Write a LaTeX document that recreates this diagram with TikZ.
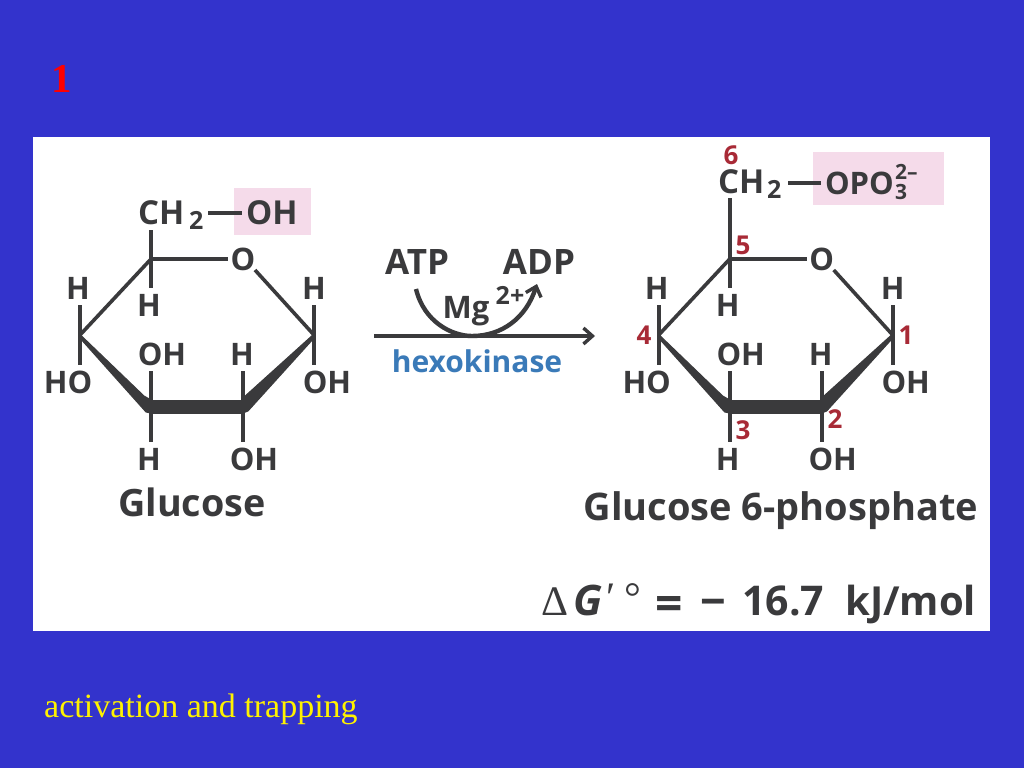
\documentclass[tikz,border=0pt]{standalone}
\usepackage{fontspec}
\setmainfont{Open Sans}
\newfontfamily\tnr{Liberation Serif}
\usetikzlibrary{arrows.meta}
\definecolor{bluebg}{HTML}{3333CC}
\definecolor{ink}{HTML}{3A3A3C}
\definecolor{pinkbox}{HTML}{F5DBEA}
\definecolor{numred}{HTML}{A82A36}
\definecolor{enzblue}{HTML}{3A7AB8}
\newcommand{\fsz}[1]{\fontsize{#1}{#1}\selectfont}
\tikzset{
  lab/.style={anchor=base,inner sep=0,outer sep=0,text=ink,font=\fsz{31}\bfseries},
  biglab/.style={lab,font=\fsz{34}\bfseries},
  sublab/.style={anchor=base,inner sep=0,outer sep=0,text=ink,font=\fsz{25}\bfseries},
  tinylab/.style={anchor=base west,inner sep=0,outer sep=0,text=ink,font=\fsz{21}\bfseries},
  numlab/.style={anchor=base,inner sep=0,outer sep=0,text=numred,font=\fsz{26}\bfseries},
  title/.style={anchor=base,inner sep=0,outer sep=0,text=ink,font=\fsz{37.7}\bfseries},
  bond/.style={draw=ink,line width=3.6pt},
  hbond/.style={draw=ink,line width=4.4pt},
  vbond/.style={draw=ink,line width=4.2pt},
  wedge/.style={fill=ink,draw=ink,line width=1pt,line join=round},
  arrowline/.style={draw=ink,line width=4.4pt},
  egy/.style={anchor=base west,inner sep=0,text=ink,font=\fsz{40}\bfseries},
  egyserif/.style={anchor=base west,inner sep=0,text=ink,font=\tnr\fsz{42}},
}
% #1 prefix, #2 x shift
\newcommand{\ringmol}[2]{%
  \begin{scope}[xshift=#2]
    \coordinate (#1c5) at (151,259);
    \coordinate (#1c1) at (314,335);
    \coordinate (#1c2) at (243,407);
    \coordinate (#1c3) at (151,407);
    \coordinate (#1c4) at (80,335);
    \coordinate (#1ob) at (255,270);
    \coordinate (#1oa) at (228,259);
    \coordinate (#1u4) at (80,305);
    \coordinate (#1d4) at (80,365);
    \coordinate (#1u5) at (151,288);
    \coordinate (#1u1) at (314,305);
    \coordinate (#1d1) at (314,365);
    \coordinate (#1u3) at (151,371);
    \coordinate (#1d3) at (151,442);
    \coordinate (#1u2) at (243,371);
    \coordinate (#1d2) at (243,442);
    \node[lab] (#1o) at (243,270) {O};
    \node[lab] (#1h4) at (78,299) {H};
    \node[lab] (#1ho) at (68,393) {HO};
    \node[lab] (#1h5) at (149,316) {H};
    \node[lab] (#1h1) at (314,299) {H};
    \node[lab] (#1oh1) at (327,393) {OH};
    \node[lab] (#1oh3) at (162,365) {OH};
    \node[lab] (#1h2) at (242,365) {H};
    \node[lab] (#1h3) at (149,470) {H};
    \node[lab] (#1oh2) at (254,470) {OH};
    \path[wedge] ([xshift=-1,yshift=1.5]#1c4) -- ([xshift=-7,yshift=11]#1c3) -- ([yshift=7]#1c3) -- ([yshift=-6]#1c3) -- ([xshift=-5,yshift=-5]#1c3) -- ([xshift=-1,yshift=-2]#1c4) -- cycle;
    \path[wedge] ([yshift=6.5]#1c3) -- ([yshift=6.5]#1c2) -- ([yshift=-6]#1c2) -- ([yshift=-6]#1c3) -- cycle;
    \path[wedge] ([xshift=1,yshift=2]#1c1) -- ([yshift=9]#1c2) -- ([yshift=-6]#1c2) -- ([xshift=5,yshift=-4]#1c2) -- ([xshift=1,yshift=-2]#1c1) -- cycle;
    \draw[bond] (#1c5) -- (#1c4);
    \draw[bond] (#1c5) -- (#1oa);
    \draw[bond] (#1ob) -- (#1c1);
    \draw[vbond] (#1u4) -- (#1d4);
    \draw[vbond] (#1c5) -- (#1u5);
    \draw[vbond] (#1u1) -- (#1d1);
    \draw[vbond] (#1u3) -- (#1d3);
    \draw[vbond] (#1u2) -- (#1d2);
  \end{scope}}
\begin{document}
\begin{tikzpicture}[x=1pt,y=-1pt]
  \useasboundingbox (0,0) rectangle (1024,768);
  \path[fill=bluebg] (0,0) rectangle (1024,768);
  \path[fill=white] (33,137) rectangle (990,631);
  \node[anchor=base,inner sep=0,text=red,font=\tnr\fsz{41}\bfseries] (num) at (62,92) {1};
  \node[anchor=base west,inner sep=0,text=yellow,font=\tnr\fsz{34}] (cap) at (44,717) {activation and trapping};

  % left molecule
  \path[fill=pinkbox] (234,188) rectangle (311,235);
  \ringmol{a}{0}
  \node[lab,anchor=base west,font=\fsz{33}\bfseries] (ach) at (138,224) {CH};
  \node[sublab,anchor=base west] (asub) at (189,229) {2};
  \node[lab,anchor=base west,font=\fsz{33}\bfseries] (aoh) at (246,224) {OH};
  \coordinate (abl) at (208,213);
  \coordinate (abr) at (242,213);
  \draw[hbond] (abl) -- (abr);
  \coordinate (atop) at (151,230);
  \draw[vbond] (ac5) -- (atop);
  \node[title] (glc) at (192,516) {Glucose};

  % right molecule
  \path[fill=pinkbox] (813,152) rectangle (944,205);
  \ringmol{b}{578.7}
  \node[lab,anchor=base west,font=\fsz{33}\bfseries] (bch) at (718,193) {CH};
  \node[sublab,anchor=base west] (bsub) at (767,198) {2};
  \node[lab,anchor=base west] (bopo) at (825,194) {OPO};
  \node[tinylab] (bthree) at (895,199) {3};
  \node[tinylab] (bchg) at (895,179) {2–};
  \coordinate (bbl) at (788,183);
  \coordinate (bbr) at (821,183);
  \draw[hbond] (bbl) -- (bbr);
  \coordinate (btop) at (729.7,198);
  \draw[vbond] (bc5) -- (btop);
  \node[numlab] (n6) at (731,164) {6};
  \node[numlab] (n5) at (743,254) {5};
  \node[numlab] (n4) at (644,344) {4};
  \node[numlab] (n1) at (906,344) {1};
  \node[numlab] (n3) at (743,439) {3};
  \node[numlab] (n2) at (835,428) {2};
  \node[title,font=\fsz{38}\bfseries] (g6p) at (781,520) {Glucose 6-phosphate};

  % reaction arrow
  \node[biglab,font=\fsz{35}\bfseries] (atp) at (417,274) {ATP};
  \node[biglab,font=\fsz{35}\bfseries] (adp) at (539,274) {ADP};
  \node[lab] (mg) at (466,318) {Mg};
  \node[sublab] (chg) at (510,304) {2+};
  \node[anchor=base,inner sep=0,text=enzblue,font=\fsz{30}\bfseries] (hk) at (477,372) {hexokinase};
  \coordinate (rs) at (374,336);
  \coordinate (re) at (595,336);
  \coordinate (cs) at (416,289);
  \coordinate (ce) at (537,284);
  \draw[arrowline,-{Straight Barb[length=9pt,width=16pt,line width=3.4pt]}] (rs) -- (re);
  \draw[arrowline,-{Straight Barb[length=9pt,width=16pt,line width=3.4pt]}] (cs) .. controls (424,322) and (452,336) .. (472,336) .. controls (502,336) and (526,318) .. (ce);

  % free energy
  \node[egyserif] (dl) at (541,615) {Δ};
  \node[egy,font=\fsz{42}\bfseries\itshape] (dg) at (573,615) {G};
  \node[egyserif] (dp) at (606,611) {′};
  \node[egyserif] (dd) at (624,611) {°};
  \node[egy,font=\fsz{48}\bfseries] (deq) at (655,620) {=};
  \node[egy,font=\fsz{45}\bfseries] (dmi) at (700,617) {−};
  \node[egy,font=\fsz{41}\bfseries] (dval) at (742,615) {16.7};
  \node[egy] (dun) at (845,615) {kJ/mol};
\end{tikzpicture}
\end{document}
